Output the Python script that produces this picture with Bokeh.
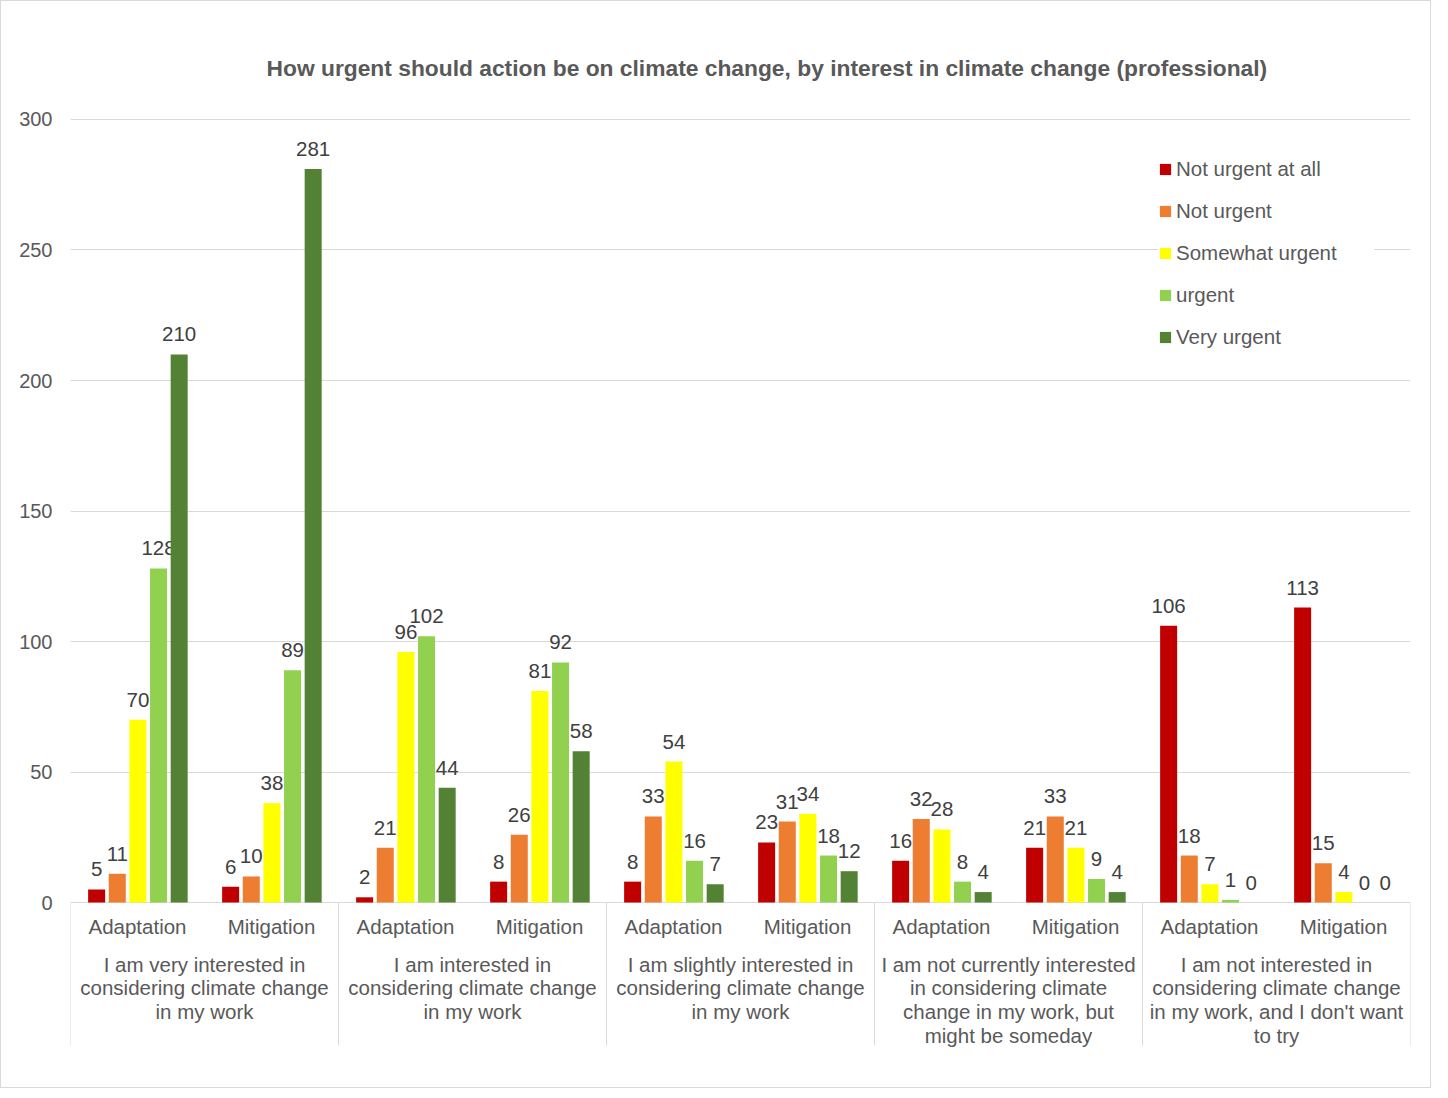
from bokeh.plotting import figure
from bokeh.models import FactorRange, Range1d, ColumnDataSource, Legend, LegendItem
from bokeh.transform import dodge
from bokeh.core.properties import value
from bokeh.embed import file_html
from bokeh.resources import INLINE

title_text = "How urgent should action be on climate change, by interest in climate change (professional)"
groups = [
    "I am very interested in considering climate change in my work",
    "I am interested in considering climate change in my work",
    "I am slightly interested in considering climate change in my work",
    "I am not currently interested in considering climate change in my work, but might be someday",
    "I am not interested in considering climate change in my work, and I don't want to try",
]
group_labels = [
    "I am very interested in\nconsidering climate change\nin my work",
    "I am interested in\nconsidering climate change\nin my work",
    "I am slightly interested in\nconsidering climate change\nin my work",
    "I am not currently interested\nin considering climate\nchange in my work, but\nmight be someday",
    "I am not interested in\nconsidering climate change\nin my work, and I don't want\nto try",
]
subcats = ["Adaptation", "Mitigation"]
series = ["Not urgent at all", "Not urgent", "Somewhat urgent", "urgent", "Very urgent"]
colors = ["#C00000", "#ED7D31", "#FFFF00", "#92D050", "#548235"]
not_urgent_at_all = [5, 6, 2, 8, 8, 23, 16, 21, 106, 113]
not_urgent = [11, 10, 21, 26, 33, 31, 32, 33, 18, 15]
somewhat_urgent = [70, 38, 96, 81, 54, 34, 28, 21, 7, 4]
urgent = [128, 89, 102, 92, 16, 18, 8, 9, 1, 0]
very_urgent = [210, 281, 44, 58, 7, 12, 4, 4, 0, 0]
y_ticks = [0, 50, 100, 150, 200, 250, 300]

FONT = value("Liberation Sans")
factors = [(g, s) for g in groups for s in subcats]

p = figure(
    x_range=FactorRange(factors=factors, factor_padding=0, group_padding=0, range_padding=0),
    y_range=Range1d(-71.64, 309.96),
    width=1431, height=1088,
    output_backend="svg", toolbar_location=None,
    min_border_left=69, min_border_right=22, min_border_top=92, min_border_bottom=0,
    x_axis_location=None,
)
p.styles = {"border": "1px solid #D9D9D9"}
p.outline_line_color = None

p.title.text = title_text
p.title.align = "left"
p.title.offset = 196
p.title.standoff = 26
p.title.text_font = "Liberation Sans"
p.title.text_font_size = "22.8px"
p.title.text_font_style = "bold"
p.title.text_color = "#595959"

p.yaxis.ticker = y_ticks
p.yaxis.axis_line_color = None
p.yaxis.major_tick_line_color = None
p.yaxis.minor_tick_line_color = None
p.yaxis.major_label_standoff = 12
p.yaxis.major_label_text_font = "Liberation Sans"
p.yaxis.major_label_text_font_size = "20px"
p.yaxis.major_label_text_color = "#595959"
p.xgrid.visible = False
p.ygrid.grid_line_color = "#D9D9D9"
p.ygrid.grid_line_width = 1

all_series = [not_urgent_at_all, not_urgent, somewhat_urgent, urgent, very_urgent]
pitch = 0.154
bar_w = 0.127
items = []
for k, (name, vals, color) in enumerate(zip(series, all_series, colors)):
    src = ColumnDataSource(dict(x=factors, top=vals, label=[str(v) for v in vals]))
    off = (k - 2) * pitch + 0.003
    r = p.vbar(x=dodge("x", off, range=p.x_range), top="top", width=bar_w, bottom=0,
               source=src, fill_color=color, line_color=None)
    p.text(x=dodge("x", off, range=p.x_range), y="top", text="label", source=src,
           text_align="center", text_baseline="bottom", y_offset=-13,
           text_font=FONT, text_font_size="20.5px", text_color="#404040")
    items.append(LegendItem(label=name, renderers=[r]))

# category axis texts
sub_src = ColumnDataSource(dict(x=factors, t=[f[1] for f in factors]))
p.text(x="x", y=-9.2, text="t", source=sub_src, text_align="center", text_baseline="middle",
       text_font=FONT, text_font_size="20.5px", text_color="#595959")
grp_src = ColumnDataSource(dict(x=groups, t=group_labels))
p.text(x="x", y=-19.2, text="t", source=grp_src, text_align="center", text_baseline="top",
       text_line_height=1.034, text_font=FONT, text_font_size="20.5px", text_color="#595959")

sep_left = ColumnDataSource(dict(x=[(g, subcats[0]) for g in groups]))
p.segment(x0=dodge("x", -0.5, range=p.x_range), x1=dodge("x", -0.5, range=p.x_range),
          y0=0, y1=-54.8, source=sep_left, line_color="#D9D9D9", line_width=1)
sep_right = ColumnDataSource(dict(x=[(groups[-1], subcats[-1])]))
p.segment(x0=dodge("x", 0.5, range=p.x_range), x1=dodge("x", 0.5, range=p.x_range),
          y0=0, y1=-54.8, source=sep_right, line_color="#D9D9D9", line_width=1)

legend = Legend(items=items, location=(1088, 740), padding=18, spacing=18,
                glyph_width=14, glyph_height=14, label_height=20, label_standoff=4,
                label_width=198,
                label_text_font="Liberation Sans", label_text_font_size="20.5px",
                label_text_color="#595959", border_line_color=None,
                background_fill_color="white", background_fill_alpha=1.0, margin=0)
p.add_layout(legend)

open("out.html", "w").write(file_html(p, INLINE))
